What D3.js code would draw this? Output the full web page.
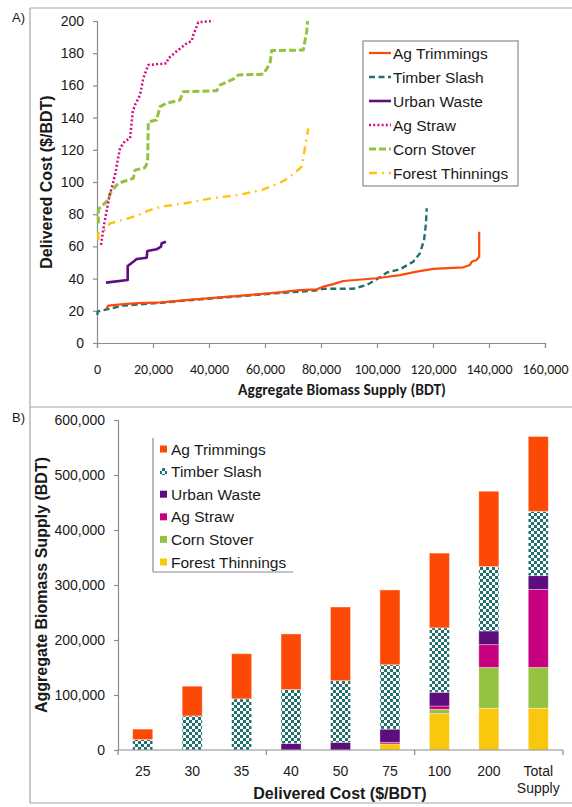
<!DOCTYPE html>
<html>
<head>
<meta charset="utf-8">
<script src="https://cdn.jsdelivr.net/npm/d3@7/dist/d3.min.js"></script>
<style>
  html, body { margin: 0; padding: 0; background: #fff; }
  svg { display: block; }
  text { fill: #1a1a1a; }
</style>
</head>
<body>
<svg id="chart" width="572" height="807"></svg>
<script>
// ---- Series names and colours ----
const seriesNames = ["Ag Trimmings", "Timber Slash", "Urban Waste", "Ag Straw", "Corn Stover", "Forest Thinnings"];
const lineColors = ["#FD4A0A", "#22706E", "#5B0F80", "#D10C86", "#94C23E", "#FFC20E"];
const barColors  = ["#FC4A06", "#22706E", "#5C0E7C", "#C6007E", "#95C341", "#F9C80E"];

// ---- Panel A: supply curves, [aggregate supply (BDT), delivered cost ($/BDT)] ----
const agTrimmingsCurve = [[3450,21.5],[4040,23.2],[9400,24.2],[15000,24.8],[23100,25.2],[33800,26.9],[51700,29.4],[66000,31.6],[72500,32.9],[78450,33.3],[80820,35],[84390,36.6],[87960,38.5],[99880,40.2],[108200,42.2],[114160,44.3],[120100,46],[130800,47],[133200,48.4],[133800,50.5],[135600,51.6],[136500,53.6],[136500,69.1]];
const timberSlashCurve = [[100,17.4],[240,19.5],[1070,19.9],[3450,20.9],[8810,23],[9400,23.2],[23100,25],[33820,26.7],[51670,29.2],[65950,31.2],[77850,32.5],[80820,33.7],[91530,33.7],[96300,36],[99880,39.6],[103450,43.7],[108200,45.8],[112950,50.5],[115340,55.7],[116800,64],[117500,74.3],[117740,83.7]];
const urbanWasteCurve = [[3210,37.5],[10960,39.1],[10960,47.8],[12970,50.5],[14170,52.2],[17740,53],[17970,57.1],[21290,58.2],[22860,59.8],[23100,61.9],[24640,62.9]];
const agStrawCurve = [[1430,60.9],[2600,74.3],[4300,90],[6430,104.3],[8210,121],[10000,125.5],[11800,127],[12750,143.7],[13570,147.8],[15360,154],[16540,164.4],[18320,172.7],[24860,173.7],[25460,176.8],[29030,182],[32030,186.1],[33820,187.6],[34400,191.3],[36180,199.2],[41530,200]];
const cornStoverCurve = [[470,74.3],[470,82.6],[1000,84],[4040,88.8],[4640,93],[7030,98.1],[7620,99.2],[12970,102.3],[13570,107.4],[17140,108.9],[18080,112.6],[18330,137.4],[21290,138.5],[22500,146.8],[24860,148.9],[29640,150.9],[30820,156.1],[42750,156.7],[43930,160.2],[49290,164.4],[50460,166.5],[59390,166.9],[61790,173.7],[62380,181.6],[73670,182],[74890,193.3],[75240,200]];
const forestThinningsCurve = [[470,64],[470,68.1],[2860,70.2],[4640,74.3],[10000,76.8],[14750,79.5],[18930,82.6],[23100,84.7],[32600,87.1],[40960,89.9],[50460,91.9],[58810,95],[62960,97.7],[67140,101.2],[70460,105.4],[73100,109.5],[74030,118.8],[75460,133.3]];
const curves = [agTrimmingsCurve, timberSlashCurve, urbanWasteCurve, agStrawCurve, cornStoverCurve, forestThinningsCurve];

const costTicks = [0, 20, 40, 60, 80, 100, 120, 140, 160, 180, 200];
const supplyTicks = [0, 20000, 40000, 60000, 80000, 100000, 120000, 140000, 160000];

// ---- Panel B: cumulative supply (BDT) available at or below each delivered cost ----
const costCategories = ["25", "30", "35", "40", "50", "75", "100", "200", "Total Supply"];
const agTrimmingsSupply     = [19000, 54000, 82000, 101000, 134000, 136000, 136000, 137000, 136000];
const timberSlashSupply     = [19000, 62000, 93000, 98000, 112000, 117000, 117000, 117000, 117000];
const urbanWasteSupply      = [0, 0, 0, 12000, 14000, 24000, 25000, 25000, 25000];
const agStrawSupply         = [0, 0, 0, 0, 0, 3000, 6000, 41500, 142000];
const cornStoverSupply      = [0, 0, 0, 0, 0, 0, 8000, 74000, 74000];
const forestThinningsSupply = [0, 0, 0, 0, 0, 11000, 66000, 76000, 76000];
const supplyBySeries = [agTrimmingsSupply, timberSlashSupply, urbanWasteSupply, agStrawSupply, cornStoverSupply, forestThinningsSupply];
const barTicks = [0, 100000, 200000, 300000, 400000, 500000, 600000];

const svg = d3.select("#chart");
const gridGray = "#A6A6A6";
const axisGray = "#8C8C8C";
const arial = "'Liberation Sans', Arial, sans-serif";
const calib = "Carlito, Calibri, Lato, sans-serif";
const fmt = d3.format(",");

// ---- Panel frames ----
const frame = svg.append("g").attr("stroke", gridGray).attr("stroke-width", 1.2).attr("fill", "none");
frame.append("line").attr("x1", 30).attr("x2", 30).attr("y1", 8).attr("y2", 803);
frame.append("line").attr("x1", 30).attr("x2", 572).attr("y1", 8).attr("y2", 8);
frame.append("line").attr("x1", 30).attr("x2", 572).attr("y1", 407).attr("y2", 407);
frame.append("line").attr("x1", 30).attr("x2", 572).attr("y1", 803).attr("y2", 803);

svg.append("text").attr("x", 12).attr("y", 22).attr("font-family", arial).attr("font-size", 13).text("A)");
svg.append("text").attr("x", 12).attr("y", 422).attr("font-family", arial).attr("font-size", 13).text("B)");

// ================= Panel A =================
const xA = d3.scaleLinear().domain([0, 160000]).range([97, 545]);
const yA = d3.scaleLinear().domain([0, 200]).range([343, 21]);

const axA_y = svg.append("g").attr("transform", `translate(${xA(0)},0)`)
  .call(d3.axisLeft(yA).tickValues(costTicks).tickSize(4).tickPadding(9));
const axA_x = svg.append("g").attr("transform", `translate(0,${yA(0)})`)
  .call(d3.axisBottom(xA).tickValues(supplyTicks).tickFormat(fmt).tickSize(5).tickPadding(16));
[axA_y, axA_x].forEach(g => {
  g.select(".domain").attr("stroke", axisGray).attr("stroke-width", 1.2);
  g.selectAll(".tick line").attr("stroke", axisGray).attr("stroke-width", 1.2);
});
axA_y.selectAll("text").attr("font-family", arial).attr("font-size", 14).attr("fill", "#1a1a1a");
axA_x.selectAll("text").attr("font-family", calib).attr("font-size", 14).attr("fill", "#1a1a1a");

svg.append("text").attr("transform", `translate(52,${(yA(0) + yA(200)) / 2}) rotate(-90)`)
  .attr("text-anchor", "middle").attr("font-family", arial).attr("font-weight", "bold").attr("font-size", 16)
  .text("Delivered Cost ($/BDT)");
svg.append("text").attr("x", 342).attr("y", 395).attr("text-anchor", "middle")
  .attr("font-family", calib).attr("font-weight", "bold").attr("font-size", 15.5)
  .text("Aggregate Biomass Supply (BDT)");

const lineStyles = [
  { w: 2.2, dash: null },
  { w: 2.4, dash: "6,3.5" },
  { w: 2.6, dash: null },
  { w: 2.5, dash: "2,2.2" },
  { w: 3, dash: "7,3" },
  { w: 2.4, dash: "8,5,1.8,5" }
];
const lineGen = d3.line().x(d => xA(d[0])).y(d => yA(d[1]));
const linesG = svg.append("g").attr("fill", "none");
// draw back-to-front so the orange trimmings curve sits over the dashed slash curve
[5, 4, 3, 2, 1, 0].forEach(i => {
  linesG.append("path").datum(curves[i]).attr("d", lineGen)
    .attr("stroke", lineColors[i]).attr("stroke-width", lineStyles[i].w)
    .attr("stroke-dasharray", lineStyles[i].dash)
    .attr("stroke-linejoin", "round");
});

// legend A
const legA = svg.append("g").attr("transform", "translate(363,41)");
legA.append("rect").attr("width", 155).attr("height", 145).attr("fill", "#fff")
  .attr("stroke", "#8a8a8a").attr("stroke-width", 1.2);
seriesNames.forEach((name, i) => {
  const yy = 12 + i * 24;
  legA.append("line").attr("x1", 6).attr("x2", 28).attr("y1", yy).attr("y2", yy)
    .attr("stroke", lineColors[i]).attr("stroke-width", lineStyles[i].w)
    .attr("stroke-dasharray", lineStyles[i].dash);
  legA.append("text").attr("x", 30).attr("y", yy + 5.5).attr("font-family", arial).attr("font-size", 15.5).text(name);
});

// ================= Panel B =================
const defs = svg.append("defs");
const pat = defs.append("pattern").attr("id", "checker").attr("patternUnits", "userSpaceOnUse")
  .attr("width", 6).attr("height", 6);
pat.append("rect").attr("width", 6).attr("height", 6).attr("fill", barColors[1]);
pat.append("rect").attr("width", 3).attr("height", 3).attr("fill", "#fff");
pat.append("rect").attr("x", 3).attr("y", 3).attr("width", 3).attr("height", 3).attr("fill", "#fff");
const fills = barColors.map((c, i) => i === 1 ? "url(#checker)" : c);

const xB = d3.scaleBand().domain(costCategories).range([118, 563]).paddingInner(0.595).paddingOuter(0.2975);
const yB = d3.scaleLinear().domain([0, 600000]).range([750, 420]);

const rows = costCategories.map((c, j) => {
  const r = { cat: c };
  seriesNames.forEach((s, i) => { r[s] = supplyBySeries[i][j]; });
  return r;
});
// stack from the bottom: Forest Thinnings first, Ag Trimmings on top
const stackOrder = seriesNames.slice().reverse();
const stacked = d3.stack().keys(stackOrder)(rows);

const barsG = svg.append("g");
stacked.forEach(layer => {
  const i = seriesNames.indexOf(layer.key);
  barsG.append("g").selectAll("rect").data(layer).join("rect")
    .attr("x", d => xB(d.data.cat))
    .attr("width", xB.bandwidth())
    .attr("y", d => yB(d[1]))
    .attr("height", d => yB(d[0]) - yB(d[1]))
    .attr("fill", fills[i])
    .attr("stroke", "rgba(255,255,255,0.45)").attr("stroke-width", 0.8);
});

const axB_y = svg.append("g").attr("transform", "translate(118,0)")
  .call(d3.axisLeft(yB).tickValues(barTicks).tickFormat(fmt).tickSize(4).tickPadding(9));
axB_y.select(".domain").attr("stroke", axisGray).attr("stroke-width", 1.2);
axB_y.selectAll(".tick line").attr("stroke", axisGray).attr("stroke-width", 1.2);
axB_y.selectAll("text").attr("font-family", arial).attr("font-size", 14).attr("fill", "#1a1a1a");

// category axis: tick marks every third category boundary
const xAxisB = svg.append("g");
xAxisB.append("line").attr("x1", 118).attr("x2", 563).attr("y1", 750).attr("y2", 750)
  .attr("stroke", axisGray).attr("stroke-width", 1.2);
const step = xB.step();
[0, 3, 6, 9].forEach(k => {
  const xx = xB.range()[0] + k * step;
  xAxisB.append("line").attr("x1", xx).attr("x2", xx).attr("y1", 750).attr("y2", 755)
    .attr("stroke", axisGray).attr("stroke-width", 1.2);
});
costCategories.forEach(c => {
  const cx = xB(c) + xB.bandwidth() / 2;
  const words = c.split(" ");
  const t = xAxisB.append("text").attr("text-anchor", "middle").attr("font-family", arial).attr("font-size", 14);
  words.forEach((w, k) => t.append("tspan").attr("x", cx).attr("y", 776 + k * 17).text(w));
});

svg.append("text").attr("x", 340).attr("y", 799).attr("text-anchor", "middle")
  .attr("font-family", arial).attr("font-weight", "bold").attr("font-size", 16)
  .text("Delivered Cost ($/BDT)");
svg.append("text").attr("transform", "translate(47,585) rotate(-90)").attr("text-anchor", "middle")
  .attr("font-family", arial).attr("font-weight", "bold").attr("font-size", 16)
  .text("Aggregate Biomass Supply (BDT)");

// legend B
const legB = svg.append("g").attr("transform", "translate(153,438)");
legB.append("line").attr("x1", 0).attr("x2", 0).attr("y1", 0).attr("y2", 134).attr("stroke", "#8a8a8a").attr("stroke-width", 1.2);
legB.append("line").attr("x1", 0).attr("x2", 140).attr("y1", 134).attr("y2", 134).attr("stroke", "#8a8a8a").attr("stroke-width", 1.2);
seriesNames.forEach((name, i) => {
  const yy = 11 + i * 22.6;
  legB.append("rect").attr("x", 7).attr("y", yy - 3.5).attr("width", 7).attr("height", 7).attr("fill", fills[i]);
  legB.append("text").attr("x", 18).attr("y", yy + 5.5).attr("font-family", arial).attr("font-size", 15.5).text(name);
});
</script>
</body>
</html>
